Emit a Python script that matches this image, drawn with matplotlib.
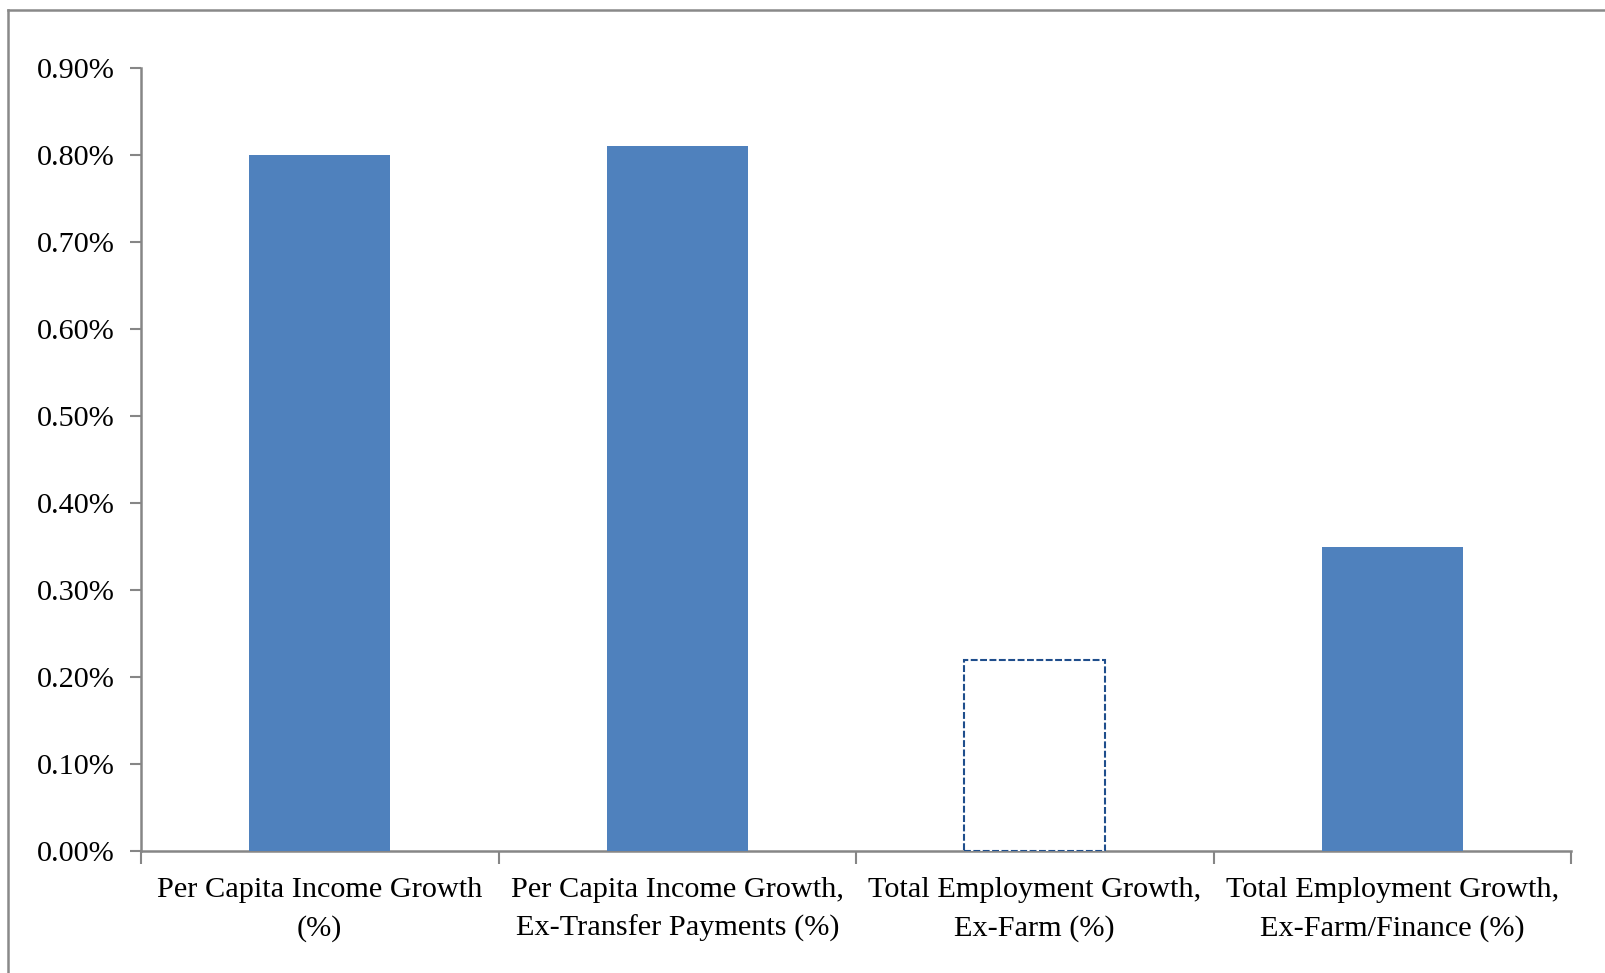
import matplotlib
matplotlib.use("Agg")
import matplotlib.pyplot as plt
from matplotlib.lines import Line2D
from matplotlib.ticker import FuncFormatter

categories = [
    "Per Capita Income Growth\n(%)",
    "Per Capita Income Growth,\nEx-Transfer Payments (%)",
    "Total Employment Growth,\nEx-Farm (%)",
    "Total Employment Growth,\nEx-Farm/Finance (%)",
]
values = [0.80, 0.81, 0.22, 0.35]
dashed = [False, False, True, False]
yticks = [0.0, 0.1, 0.2, 0.3, 0.4, 0.5, 0.6, 0.7, 0.8, 0.9]

plt.rcParams['font.family'] = ['Liberation Serif', 'DejaVu Serif']

fig = plt.figure(figsize=(16.05, 9.73), dpi=100)
ax = fig.add_axes([141/1605, 1 - 851/973, (1571-141)/1605, (851-68)/973])

spine_color = "#868686"
x = list(range(len(categories)))
for xi, v, d in zip(x, values, dashed):
    if d:
        ax.bar(xi, v, width=0.395, facecolor="white", edgecolor="#1F4E8C",
               linewidth=1.5, linestyle=(0, (3.3, 1.2)), zorder=3)
    else:
        ax.bar(xi, v, width=0.395, color="#4F81BD", zorder=3)

ax.set_xlim(-0.5, len(categories) - 0.5)
ax.set_ylim(0, 0.9)
ax.set_yticks(yticks)
ax.yaxis.set_major_formatter(FuncFormatter(lambda v, p: f"{v:.2f}%"))
ax.set_xticks(x)
ax.set_xticklabels(categories, fontsize=21.8, linespacing=1.55)
ax.set_xticks([i - 0.5 for i in range(len(categories) + 1)], minor=True)
ax.tick_params(axis='x', which='major', length=0, pad=19)
ax.tick_params(axis='x', which='minor', length=9, width=1.5, color=spine_color, direction='out')
ax.tick_params(axis='y', which='major', length=8, width=1.5, color=spine_color,
               labelsize=21.8, pad=11)

for s in ["top", "right"]:
    ax.spines[s].set_visible(False)
for s in ["left", "bottom"]:
    ax.spines[s].set_color(spine_color)
    ax.spines[s].set_linewidth(1.8)

# outer chart border (top and left visible)
fig.add_artist(Line2D([8/1605, 1.0], [1 - 10/973, 1 - 10/973], transform=fig.transFigure,
                      color="#898989", linewidth=1.8))
fig.add_artist(Line2D([8/1605, 8/1605], [0.0, 1 - 10/973], transform=fig.transFigure,
                      color="#898989", linewidth=1.8))

fig.savefig("out.png", dpi=100, facecolor="white")
